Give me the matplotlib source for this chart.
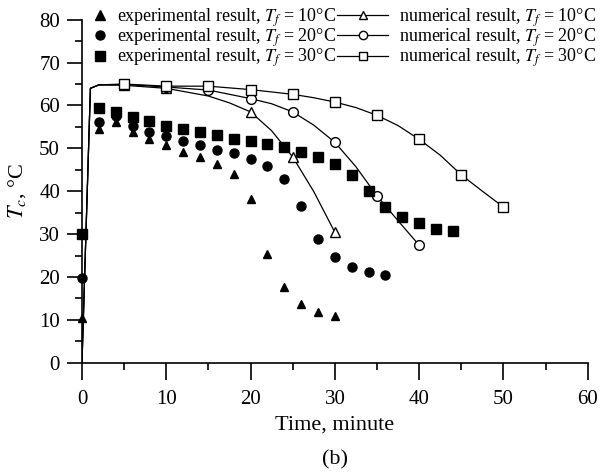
import numpy as np
import matplotlib
matplotlib.use("Agg")
import matplotlib.pyplot as plt
from matplotlib.lines import Line2D

plt.rcParams['font.family'] = ['Liberation Serif', 'DejaVu Serif']
plt.rcParams['mathtext.fontset'] = 'stix'

# experimental data (every 2 min)
exp10_t = [0, 2, 4, 6, 8, 10, 12, 14, 16, 18, 20, 22, 24, 26, 28, 30]
exp10_T = [10.5, 54.4, 56.2, 53.9, 52.1, 50.7, 49.2, 48.0, 46.3, 44.1,
           38.2, 25.3, 17.6, 13.7, 11.8, 10.8]
exp20_t = [0, 2, 4, 6, 8, 10, 12, 14, 16, 18, 20, 22, 24, 26, 28, 30, 32, 34, 36]
exp20_T = [19.7, 56.2, 57.5, 55.3, 53.9, 52.8, 51.8, 50.7, 49.7, 48.8,
           47.6, 45.9, 42.8, 36.6, 28.9, 24.6, 22.4, 21.2, 20.5]
exp30_t = [0, 2, 4, 6, 8, 10, 12, 14, 16, 18, 20, 22, 24, 26, 28, 30, 32,
           34, 36, 38, 40, 42, 44]
exp30_T = [30.0, 59.4, 58.4, 57.3, 56.4, 55.3, 54.4, 53.9, 53.1, 52.1, 51.8,
           51.1, 50.3, 49.2, 48.0, 46.3, 43.8, 40.1, 36.4, 33.9, 32.5, 31.2, 30.8]

# numerical results (markers every 5 min)
num10_t = [0, 1, 2, 5, 10, 15, 17.5, 20, 22.5, 25, 27.5, 30]
num10_T = [0, 64.0, 64.8, 64.7, 64.0, 62.2, 60.6, 58.5, 54.1, 48.0, 39.9, 30.4]
num10_mk = [3, 4, 7, 9, 11]
num20_t = [0, 1, 2, 5, 10, 15, 20, 22.5, 25, 27.5, 30, 32.5, 35, 37.5, 40]
num20_T = [0, 64.0, 64.8, 64.9, 64.3, 63.6, 61.6, 60.4, 58.5, 55.4, 51.4,
           45.7, 38.9, 33.1, 27.4]
num20_mk = [3, 4, 5, 6, 8, 10, 12, 14]
num30_t = [0, 1, 2, 5, 10, 15, 20, 25, 27.5, 30, 32.5, 35, 37.5, 40, 42.5, 45, 47.5, 50]
num30_T = [0, 64.0, 64.8, 65.0, 64.5, 64.5, 63.7, 62.6, 61.8, 60.8, 59.5, 57.7,
           55.3, 52.1, 48.4, 43.8, 40.0, 36.3]
num30_mk = [3, 4, 5, 6, 7, 9, 11, 13, 15, 17]

exp_labels = [r'experimental result, $T_f$ = 10°C',
              r'experimental result, $T_f$ = 20°C',
              r'experimental result, $T_f$ = 30°C']
num_labels = [r'numerical result, $T_f$ = 10°C',
              r'numerical result, $T_f$ = 20°C',
              r'numerical result, $T_f$ = 30°C']

fig = plt.figure(figsize=(6.01, 4.75), dpi=100)
ax = fig.add_axes([0.1364, 0.2364, 0.8416, 0.7221])

ax.plot(num10_t, num10_T, color='k', lw=0.9, marker='^', mfc='white', mec='k',
        ms=7, mew=1.0, markevery=num10_mk)
ax.plot(num20_t, num20_T, color='k', lw=0.9, marker='o', mfc='white', mec='k',
        ms=7, mew=1.0, markevery=num20_mk)
ax.plot(num30_t, num30_T, color='k', lw=0.9, marker='s', mfc='white', mec='k',
        ms=6.5, mew=1.0, markevery=num30_mk)

ax.plot(exp10_t, exp10_T, ls='none', marker='^', color='k', ms=6, clip_on=False)
ax.plot(exp20_t, exp20_T, ls='none', marker='o', color='k', ms=6.5, clip_on=False)
ax.plot(exp30_t, exp30_T, ls='none', marker='s', color='k', ms=6.5, clip_on=False)

ax.set_xlim(0, 60)
ax.set_ylim(0, 80)
ax.set_xticks(np.arange(0, 61, 10))
ax.set_xticks(np.arange(5, 60, 10), minor=True)
ax.set_yticks(np.arange(0, 81, 10))
ax.set_yticks(np.arange(5, 80, 10), minor=True)
for s in ['top', 'right']:
    ax.spines[s].set_visible(False)
for s in ['left', 'bottom']:
    ax.spines[s].set_linewidth(1.2)
ax.tick_params(which='major', direction='out', width=1.2, labelsize=15)
ax.tick_params(which='minor', direction='out', length=5, width=1.2)
ax.tick_params(axis='x', which='major', length=12.5, pad=7)
ax.tick_params(axis='y', which='major', length=10.8, pad=5)

ax.set_xlabel('Time, minute', fontsize=16, labelpad=5)
ax.set_ylabel(r'$T_c$, °C', fontsize=16, labelpad=8)
fig.text(0.557, 0.031, '(b)', fontsize=16, ha='center', va='center')

h1 = [Line2D([], [], ls='none', marker=m, color='k', ms=6.5) for m in ['^', 'o', 's']]
h2 = [Line2D([], [], color='k', lw=0.9, marker=m, mfc='white', mec='k', ms=6, mew=1.0)
      for m in ['^', 'o', 's']]
leg1 = fig.legend(h1, exp_labels, loc='upper left', bbox_to_anchor=(91 / 601, 1 - 6 / 475),
                  frameon=False, fontsize=13, handlelength=1.0, handletextpad=0.44,
                  borderpad=0, borderaxespad=0, labelspacing=-0.12)
leg2 = fig.legend(h2, num_labels, loc='upper left', bbox_to_anchor=(337 / 601, 1 - 6 / 475),
                  frameon=False, fontsize=13, handlelength=2.83, handletextpad=0.6,
                  borderpad=0, borderaxespad=0, labelspacing=-0.12)

fig.savefig('out.png', dpi=100)
